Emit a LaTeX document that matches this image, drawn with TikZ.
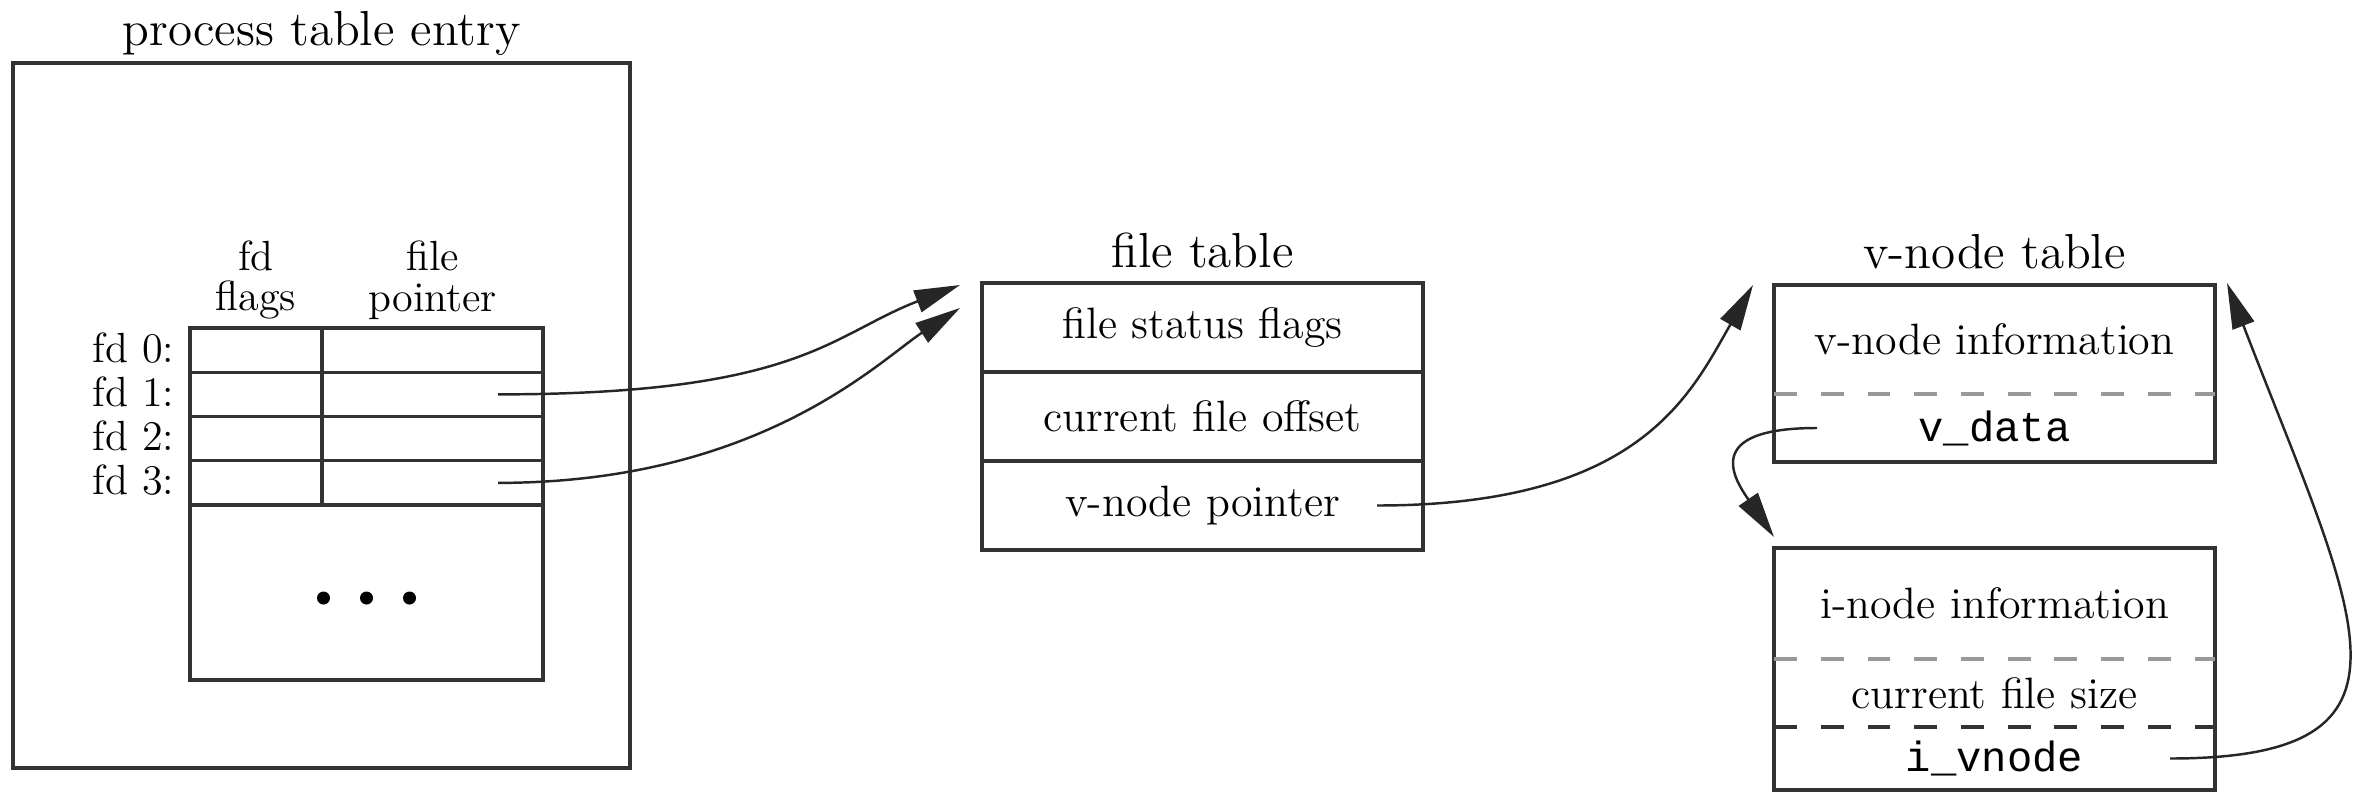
\documentclass[tikz,border=0pt]{standalone}
\usepackage{fontspec}
\setmonofont{Liberation Mono}
\usetikzlibrary{arrows.meta,positioning}
\tikzset{frame/.style={draw=black!80,line width=0.9pt}}
\tikzset{cell/.append style={frame,inner sep=0,outer sep=0,minimum height=0.4425cm}}
\tikzset{slot/.append style={inner sep=0,outer sep=0,minimum width=4.41cm,font=\fontsize{12.5}{15}\selectfont}}
\tikzset{ttl/.style={inner sep=0,font=\fontsize{14}{16}\selectfont}}
\tikzset{sm/.style={inner sep=0,font=\fontsize{12}{11.5}\selectfont,align=center}}
\tikzset{ptr/.style={draw=black!85,line width=0.7pt,-{Triangle[length=13pt,width=6.5pt]}}}
\tikzset{dsh/.style={dash pattern=on 6.5pt off 6.8pt}}
\newcommand{\mono}[1]{{\fontsize{12}{14}\selectfont\ttfamily #1}}

\begin{document}
\begin{tikzpicture}
                \useasboundingbox (0,0) rectangle (23.59,-7.94);
                % process table entry
                \node[frame,minimum width=6.17cm,minimum height=7.05cm] (proc) at (3.215,-4.155) {};
                \node[ttl,anchor=base] (proct) at ([yshift=0.16cm]proc.north) {process table entry};
                \node[cell,minimum width=1.32cm] (f0) at (2.56,-3.50125) {};
                \node[cell,minimum width=1.32cm,below=0pt of f0] (f1) {};
                \node[cell,minimum width=1.32cm,below=0pt of f1] (f2) {};
                \node[cell,minimum width=1.32cm,below=0pt of f2] (f3) {};
                \node[cell,minimum width=2.21cm,right=0pt of f0] (p0) {};
                \node[cell,minimum width=2.21cm,right=0pt of f1] (p1) {};
                \node[cell,minimum width=2.21cm,right=0pt of f2] (p2) {};
                \node[cell,minimum width=2.21cm,right=0pt of f3] (p3) {};
                \node[cell,minimum width=3.53cm,minimum height=1.75cm,anchor=north west] (rest) at (f3.south west) {};
                \foreach \i in {0,...,3}
                    \node[sm,anchor=base east] (lbl\i) at ([xshift=-0.15cm,yshift=-0.12cm]f\i.west) {fd \i:};
                \node[sm,anchor=south] (hflags) at ([yshift=0.08cm]f0.north) {fd\\flags};
                \node[sm,anchor=south] (hptr) at ([yshift=0.08cm]p0.north) {file\\pointer};
                \foreach \dx in {-0.43,0,0.43}
                    \fill[black] ([xshift=\dx cm,yshift=-0.055cm]rest.center) circle (0.065);
                % file table
                \node[slot,frame,minimum height=0.89cm] (ft1) at (12.025,-3.275) {file status flags};
                \node[slot,frame,minimum height=0.89cm,below=0pt of ft1] (ft2) {current file offset};
                \node[slot,frame,minimum height=0.89cm,below=0pt of ft2] (ft3) {v-node pointer};
                \node[ttl,anchor=base] (ftt) at ([yshift=0.15cm]ft1.north) {file table};
                % v-node table
                \node[slot,minimum height=1.09cm] (vinfo) at (19.945,-3.395) {v-node information};
                \node[slot,minimum height=0.68cm,below=0pt of vinfo] (vdata) {\mono{v\_data}};
                \node[ttl,anchor=base] (vtt) at ([yshift=0.17cm]vinfo.north) {v-node table};
                \draw[frame] (vinfo.north west) rectangle (vdata.south east);
                \draw[frame,draw=black!40,dsh] (vinfo.south west) -- (vinfo.south east);
                \node[slot,minimum height=1.11cm] (iinfo) at (19.945,-6.035) {i-node information};
                \node[slot,minimum height=0.68cm,below=0pt of iinfo] (isize) {current file size};
                \node[slot,minimum height=0.63cm,below=0pt of isize] (ivn) {\mono{i\_vnode}};
                \draw[frame] (iinfo.north west) rectangle (ivn.south east);
                \draw[frame,draw=black!40,dsh] (iinfo.south west) -- (iinfo.south east);
                \draw[frame,dsh] (isize.south west) -- (isize.south east);
                % arrow tips
                \coordinate (t1) at ([xshift=-0.22cm,yshift=-0.02cm]ft1.north west);
                \coordinate (t2) at ([xshift=-0.22cm,yshift=-0.25cm]ft1.north west);
                \coordinate (t3) at ([xshift=-0.21cm]vinfo.north west);
                \coordinate (t4) at ([yshift=0.11cm]iinfo.north west);
                \coordinate (t5) at ([xshift=0.12cm,yshift=0.02cm]vinfo.north east);
                \draw[ptr] ([xshift=-0.45cm]p1.east) .. controls +(3.02,0) and +(-1.30,-0.50) .. (t1);
                \draw[ptr] ([xshift=-0.45cm]p3.east) .. controls +(2.62,0) and +(-0.80,-0.52) .. (t2);
                \draw[ptr] ([xshift=-0.46cm]ft3.east) .. controls +(2.63,0) and +(-0.63,-1.10) .. (t3);
                \draw[ptr] ([xshift=0.43cm]vdata.west) .. controls +(-1.17,0) and +(-0.39,0.57) .. (t4);
                \draw[ptr] ([xshift=-0.45cm]ivn.east) .. controls +(2.70,0) and +(1.30,-3.37) .. (t5);
            \end{tikzpicture}
\end{document}
